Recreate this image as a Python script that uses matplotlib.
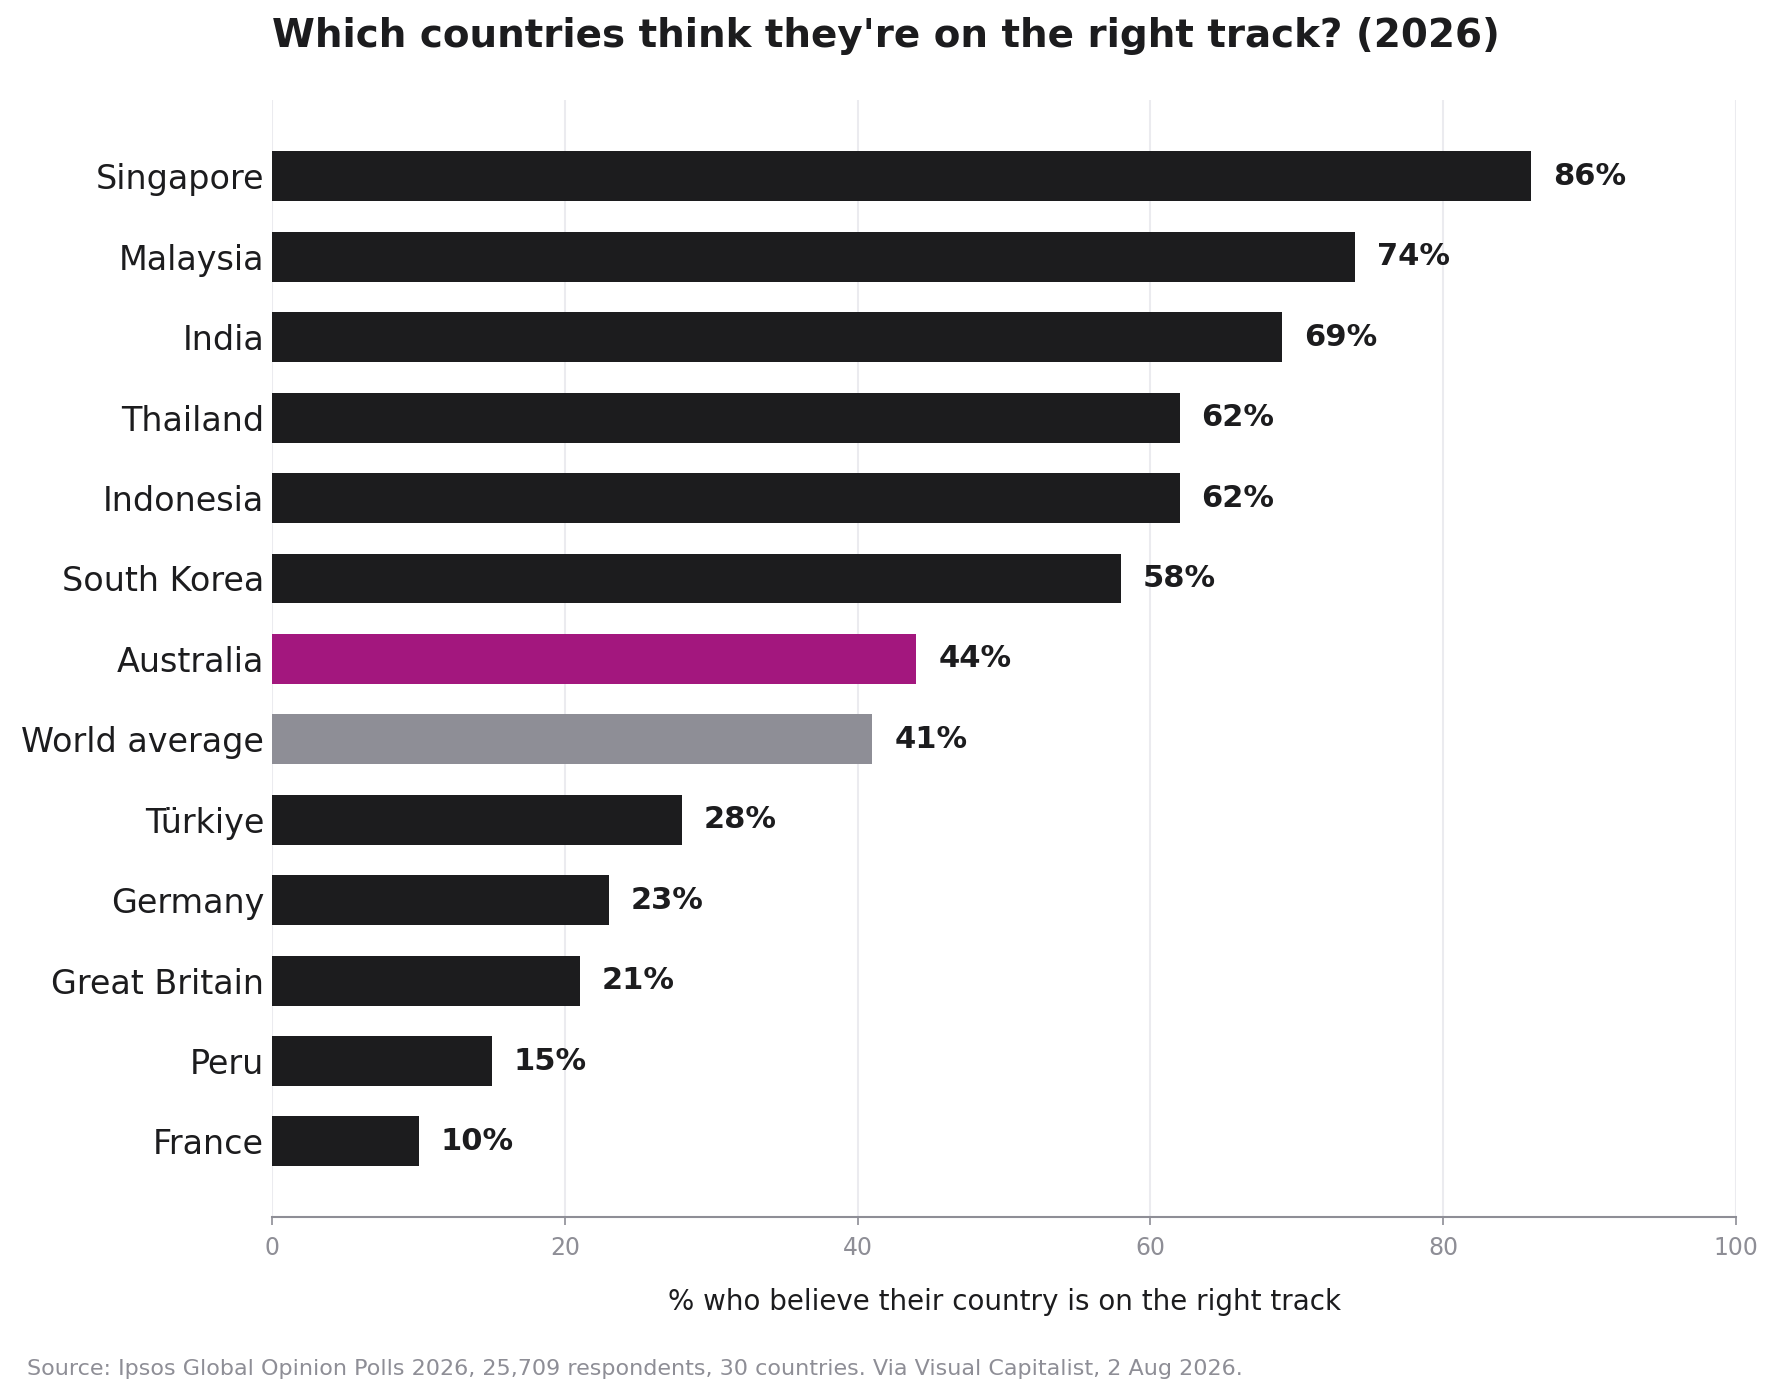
import matplotlib.pyplot as plt

countries = ["Singapore", "Malaysia", "India", "Thailand", "Indonesia", "South Korea",
             "Australia", "World average", "Türkiye", "Germany", "Great Britain", "Peru", "France"]
values = [86, 74, 69, 62, 62, 58, 44, 41, 28, 23, 21, 15, 10]
highlight = {"Australia": "#a3177e", "World average": "#8e8e96"}
x_ticks = [0, 20, 40, 60, 80, 100]

DARK = "#1c1c1e"
GRID = "#ebebef"
AXIS = "#8e8e96"


def main():
    fig = plt.figure(figsize=(17.81, 14), dpi=100)
    ax = fig.add_axes([0.153, 0.1307, 0.8215, 0.7979])

    colors = [highlight.get(c, DARK) for c in countries]
    ypos = list(range(len(countries)))
    bars = ax.barh(ypos, values, height=0.62, color=colors, zorder=2)

    for b, v in zip(bars, values):
        ax.text(b.get_width() + 1.5, b.get_y() + b.get_height() / 2, f"{v}%",
                va="center", ha="left", fontsize=22, fontweight="bold", color=DARK)

    ax.set_yticks(ypos)
    ax.set_yticklabels(countries, fontsize=24, color=DARK)
    ax.set_ylim(len(countries) - 1 + 0.94, -0.95)
    ax.set_xlim(0, 100)
    ax.set_xticks(x_ticks)
    ax.tick_params(axis="x", labelsize=17, labelcolor=AXIS, color=AXIS, length=6, width=1.2, pad=8)
    ax.tick_params(axis="y", length=0, pad=6)

    ax.grid(axis="x", color=GRID, linewidth=1.5, zorder=0)
    ax.set_axisbelow(True)
    for s in ["top", "right", "left"]:
        ax.spines[s].set_visible(False)
    ax.spines["bottom"].set_color(AXIS)
    ax.spines["bottom"].set_linewidth(1.5)

    ax.set_xlabel("% who believe their country is on the right track", fontsize=20,
                  color=DARK, labelpad=20)

    fig.text(0.153, 0.974, "Which countries think they're on the right track? (2026)",
             fontsize=28, fontweight="bold", color=DARK, ha="left", va="center")
    fig.text(0.015, 0.022, "Source: Ipsos Global Opinion Polls 2026, 25,709 respondents, 30 countries. "
             "Via Visual Capitalist, 2 Aug 2026.", fontsize=16, color=AXIS, ha="left", va="center")

    fig.savefig("out.png", dpi=100)


if __name__ == '__main__':
    main()
